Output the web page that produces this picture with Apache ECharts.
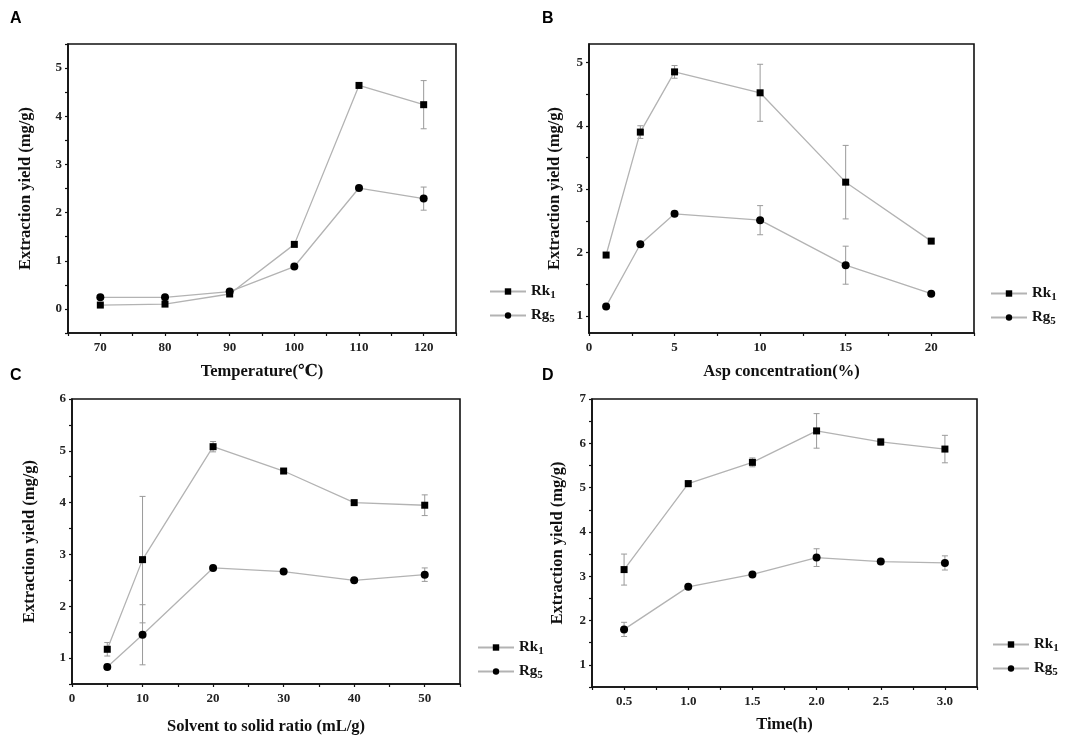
<!DOCTYPE html>
<html>
<head>
<meta charset="utf-8">
<script src="https://cdn.jsdelivr.net/npm/echarts@6/dist/echarts.min.js"></script>
<style>
  html, body { margin: 0; padding: 0; background: #fff; }
  #main { width: 1084px; height: 755px; }
</style>
</head>
<body>
<div id="main"></div>
<script>
// A - temperature
const tempX = [70, 80, 90, 100, 110, 120];
const tempRk1 = [0.08, 0.10, 0.31, 1.34, 4.64, 4.24];
const tempRk1Err = [0.03, 0.03, 0.04, 0.05, 0.06, 0.50];
const tempRg5 = [0.24, 0.24, 0.36, 0.88, 2.51, 2.29];
const tempRg5Err = [0.03, 0.03, 0.03, 0.04, 0.04, 0.24];
const tempXLabels = [70, 80, 90, 100, 110, 120];
const tempXTicks = [65, 70, 75, 80, 85, 90, 95, 100, 105, 110, 115, 120, 125];
const tempYLabels = [0, 1, 2, 3, 4, 5];
const tempYTicks = [-0.5, 0, 0.5, 1, 1.5, 2, 2.5, 3, 3.5, 4, 4.5, 5, 5.5];

// B - Asp concentration
const aspX = [1, 3, 5, 10, 15, 20];
const aspRk1 = [1.96, 3.90, 4.85, 4.52, 3.11, 2.18];
const aspRk1Err = [0.03, 0.10, 0.10, 0.45, 0.58, 0.04];
const aspRg5 = [1.15, 2.13, 2.61, 2.51, 1.80, 1.35];
const aspRg5Err = [0.03, 0.04, 0.04, 0.23, 0.30, 0.03];
const aspXLabels = [0, 5, 10, 15, 20];
const aspXTicks = [0, 2.5, 5, 7.5, 10, 12.5, 15, 17.5, 20, 22.5];
const aspYLabels = [1, 2, 3, 4, 5];
const aspYTicks = [1, 1.5, 2, 2.5, 3, 3.5, 4, 4.5, 5];

// C - solvent to solid ratio
const ratioX = [5, 10, 20, 30, 40, 50];
const ratioRk1 = [1.17, 2.90, 5.08, 4.61, 4.00, 3.95];
const ratioRk1Err = [0.13, 1.22, 0.10, 0.04, 0.03, 0.20];
const ratioRg5 = [0.83, 1.45, 2.74, 2.67, 2.50, 2.61];
const ratioRg5Err = [0.05, 0.58, 0.03, 0.03, 0.03, 0.13];
const ratioXLabels = [0, 10, 20, 30, 40, 50];
const ratioXTicks = [0, 5, 10, 15, 20, 25, 30, 35, 40, 45, 50, 55];
const ratioYLabels = [1, 2, 3, 4, 5, 6];
const ratioYTicks = [0.5, 1, 1.5, 2, 2.5, 3, 3.5, 4, 4.5, 5, 5.5, 6];

// D - time
const timeX = [0.5, 1.0, 1.5, 2.0, 2.5, 3.0];
const timeRk1 = [3.15, 5.09, 5.57, 6.28, 6.03, 5.87];
const timeRk1Err = [0.35, 0.07, 0.10, 0.39, 0.08, 0.31];
const timeRg5 = [1.80, 2.76, 3.04, 3.42, 3.33, 3.30];
const timeRg5Err = [0.16, 0.03, 0.03, 0.20, 0.03, 0.16];
const timeXLabels = [0.5, 1.0, 1.5, 2.0, 2.5, 3.0];
const timeXTicks = [0.25, 0.5, 0.75, 1.0, 1.25, 1.5, 1.75, 2.0, 2.25, 2.5, 2.75, 3.0, 3.25];
const timeYLabels = [1, 2, 3, 4, 5, 6, 7];
const timeYTicks = [0.5, 1, 1.5, 2, 2.5, 3, 3.5, 4, 4.5, 5, 5.5, 6, 6.5, 7];

const serif = '"Liberation Serif", "DejaVu Serif", serif';
const lineGray = '#b3b3b3';
const errGray = '#9a9a9a';

// panel layout
const panels = [
	{ letter: 'A', grid: { left: 68, top: 44, width: 388, height: 289 }, xName: 'Temperature(℃)', xGap: 30, yGap: 34,
		xMin: 65, xMax: 125, yMin: -0.5, yMax: 5.5, xLabels: tempXLabels, xTicks: tempXTicks, yLabels: tempYLabels, yTicks: tempYTicks,
		x: tempX, rk: tempRk1, rkErr: tempRk1Err, rg: tempRg5, rgErr: tempRg5Err, legend: { left: 484, top: 279 }, xFmt: null },
	{ letter: 'B', grid: { left: 589, top: 44, width: 385, height: 289 }, xName: 'Asp concentration(%)', xGap: 30, yGap: 26,
		xMin: 0, xMax: 22.5, yMin: 0.73, yMax: 5.29, xLabels: aspXLabels, xTicks: aspXTicks, yLabels: aspYLabels, yTicks: aspYTicks,
		x: aspX, rk: aspRk1, rkErr: aspRk1Err, rg: aspRg5, rgErr: aspRg5Err, legend: { left: 985, top: 281 }, xFmt: null },
	{ letter: 'C', grid: { left: 72, top: 399, width: 388, height: 285 }, xName: 'Solvent to solid ratio (mL/g)', xGap: 34, yGap: 34,
		xMin: 0, xMax: 55, yMin: 0.5, yMax: 6, xLabels: ratioXLabels, xTicks: ratioXTicks, yLabels: ratioYLabels, yTicks: ratioYTicks,
		x: ratioX, rk: ratioRk1, rkErr: ratioRk1Err, rg: ratioRg5, rgErr: ratioRg5Err, legend: { left: 472, top: 635 }, xFmt: null },
	{ letter: 'D', grid: { left: 592, top: 399, width: 385, height: 288 }, xName: 'Time(h)', xGap: 29, yGap: 26,
		xMin: 0.25, xMax: 3.25, yMin: 0.5, yMax: 7, xLabels: timeXLabels, xTicks: timeXTicks, yLabels: timeYLabels, yTicks: timeYTicks,
		x: timeX, rk: timeRk1, rkErr: timeRk1Err, rg: timeRg5, rgErr: timeRg5Err, legend: { left: 987, top: 632 }, xFmt: function (v) { return v.toFixed(1); } }
];

function zip(xs, ys) {
	return xs.map(function (x, i) { return [x, ys[i]]; });
}

function errData(xs, ys, es) {
	return xs.map(function (x, i) { return [x, ys[i] - es[i], ys[i] + es[i]]; });
}

// error bar with caps
function renderErr(params, api) {
	const x = api.value(0);
	const lo = api.coord([x, api.value(1)]);
	const hi = api.coord([x, api.value(2)]);
	const cap = 3;
	const style = { stroke: errGray, lineWidth: 1 };
	return {
		type: 'group',
		children: [
			{ type: 'line', shape: { x1: hi[0], y1: hi[1], x2: lo[0], y2: lo[1] }, style: style },
			{ type: 'line', shape: { x1: hi[0] - cap, y1: hi[1], x2: hi[0] + cap, y2: hi[1] }, style: style },
			{ type: 'line', shape: { x1: lo[0] - cap, y1: lo[1], x2: lo[0] + cap, y2: lo[1] }, style: style }
		]
	};
}

const axisText = { fontFamily: serif, fontWeight: 'bold', fontSize: 13, color: '#222' };
const nameText = { fontFamily: serif, fontWeight: 'bold', fontSize: 16.5, color: '#111' };

let grids = [], xAxes = [], yAxes = [], series = [], legends = [], graphics = [];

panels.forEach(function (p, i) {
	grids.push(Object.assign({ show: true, borderColor: '#111', borderWidth: 1.6, backgroundColor: '#fff' }, p.grid));
	xAxes.push({
		type: 'value', gridIndex: i, min: p.xMin, max: p.xMax,
		name: p.xName, nameLocation: 'middle', nameGap: p.xGap, nameTextStyle: nameText,
		axisLine: { show: true, onZero: false, lineStyle: { color: '#111', width: 1.6 } },
		axisTick: { show: true, customValues: p.xTicks, length: 3, lineStyle: { color: '#111', width: 1.2 } },
		axisLabel: Object.assign({ customValues: p.xLabels, margin: 8, formatter: p.xFmt || undefined }, axisText),
		splitLine: { show: false }
	});
	yAxes.push({
		type: 'value', gridIndex: i, min: p.yMin, max: p.yMax,
		name: 'Extraction yield (mg/g)', nameLocation: 'middle', nameGap: p.yGap, nameTextStyle: nameText,
		axisLine: { show: true, onZero: false, lineStyle: { color: '#111', width: 1.6 } },
		axisTick: { show: true, customValues: p.yTicks, length: 3, lineStyle: { color: '#111', width: 1.2 } },
		axisLabel: Object.assign({ customValues: p.yLabels, margin: 6 }, axisText),
		splitLine: { show: false }
	});
	series.push({
		type: 'custom', name: 'errRk' + i, xAxisIndex: i, yAxisIndex: i,
		renderItem: renderErr, encode: { x: 0, y: [1, 2] }, data: errData(p.x, p.rk, p.rkErr), z: 2, silent: true
	});
	series.push({
		type: 'custom', name: 'errRg' + i, xAxisIndex: i, yAxisIndex: i,
		renderItem: renderErr, encode: { x: 0, y: [1, 2] }, data: errData(p.x, p.rg, p.rgErr), z: 2, silent: true
	});
	series.push({
		name: 'Rk1', type: 'line', xAxisIndex: i, yAxisIndex: i, data: zip(p.x, p.rk),
		symbol: 'rect', symbolSize: 7, itemStyle: { color: '#000' },
		lineStyle: { color: lineGray, width: 1.3 }, z: 3
	});
	series.push({
		name: 'Rg5', type: 'line', xAxisIndex: i, yAxisIndex: i, data: zip(p.x, p.rg),
		symbol: 'circle', symbolSize: 8, itemStyle: { color: '#000' },
		lineStyle: { color: lineGray, width: 1.3 }, z: 3
	});
	legends.push({
		data: ['Rk1', 'Rg5'], orient: 'vertical', left: p.legend.left, top: p.legend.top,
		itemWidth: 36, itemHeight: 8, itemGap: 7, selectedMode: false,
		formatter: function (name) {
			return name === 'Rk1' ? '{b|Rk}{s|1}' : '{b|Rg}{s|5}';
		},
		textStyle: {
			rich: {
				b: { fontFamily: serif, fontWeight: 'bold', fontSize: 15, color: '#111' },
				s: { fontFamily: serif, fontWeight: 'bold', fontSize: 11, color: '#111', padding: [8, 0, 0, 0] }
			}
		}
	});
	// panel letter
	graphics.push({
		type: 'text', left: i % 2 === 0 ? 10 : 542, top: i < 2 ? 11 : 368,
		style: { text: p.letter, font: 'bold 16px Arial, "Liberation Sans", sans-serif', fill: '#000' }
	});
});

const chart = echarts.init(document.getElementById('main'));
chart.setOption({
	animation: false,
	backgroundColor: '#fff',
	grid: grids,
	xAxis: xAxes,
	yAxis: yAxes,
	legend: legends,
	graphic: graphics,
	series: series
});
</script>
</body>
</html>
